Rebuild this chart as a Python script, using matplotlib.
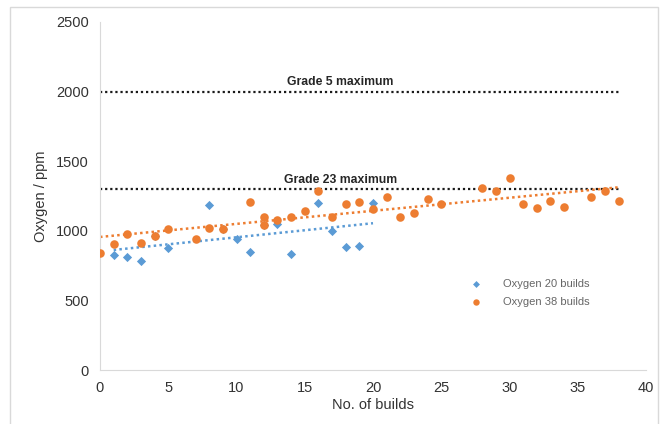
import numpy as np
import matplotlib
matplotlib.use("Agg")
import matplotlib.pyplot as plt
from matplotlib.patches import Rectangle

plt.rcParams["font.family"] = ["Liberation Sans", "DejaVu Sans"]

# ---------------------------------------------------------------------------
# Data
# ---------------------------------------------------------------------------
builds_20 = [1, 2, 3, 4, 5, 8, 9, 10, 11, 12, 13, 14, 16, 17, 18, 19, 20]
oxygen_20 = [826, 810, 785, 960, 876, 1185, 1010, 941, 845, 1045, 1046, 833,
             1197, 996, 886, 891, 1197]

builds_38 = [0, 1, 2, 3, 4, 5, 7, 8, 9, 11, 12, 12, 13, 14, 15, 16, 17, 18,
             19, 20, 21, 22, 23, 24, 25, 28, 29, 30, 31, 32, 33, 34, 36, 37, 38]
oxygen_38 = [838, 905, 977, 915, 963, 1011, 943, 1022, 1011, 1204, 1101, 1042,
             1078, 1101, 1142, 1286, 1101, 1192, 1204, 1154, 1245, 1097, 1130,
             1226, 1192, 1310, 1286, 1377, 1192, 1166, 1216, 1173, 1245, 1286,
             1216]

grade_limits = [2000, 1300]
grade_labels = ["Grade 5 maximum", "Grade 23 maximum"]

BLUE = "#5B9BD5"
ORANGE = "#ED7D31"

# ---------------------------------------------------------------------------
# Plot
# ---------------------------------------------------------------------------
fig = plt.figure(figsize=(6.69, 4.24), dpi=100)
fig.patches.append(Rectangle((10 / 669, -0.05), 648 / 669, 1 - 7 / 424 + 0.05,
                             transform=fig.transFigure, fill=False,
                             edgecolor="#d9d9d9", linewidth=1))
ax = fig.add_axes([100 / 669, 1 - 370 / 424, 546 / 669, 348 / 424])

# grade limit lines
for lim, lab in zip(grade_limits, grade_labels):
    ax.plot([0, 38], [lim, lim], color="#1a1a1a", linestyle=(0, (1, 1.3)),
            linewidth=1.6, zorder=1)
    ax.text(17.6, lim + 25, lab, ha="center", va="bottom", fontsize=8.8,
            fontweight="bold", color="#262626")

# scatter
ax.scatter(builds_20, oxygen_20, marker="D", s=22, color=BLUE,
           label="Oxygen 20 builds", zorder=3, linewidths=0)
ax.scatter(builds_38, oxygen_38, marker="o", s=38, color=ORANGE,
           label="Oxygen 38 builds", zorder=4, linewidths=0)

# linear trend lines
for xs, ys, col in [(builds_20, oxygen_20, BLUE), (builds_38, oxygen_38, ORANGE)]:
    k, b = np.polyfit(xs, ys, 1)
    xr = np.array([min(xs), max(xs)])
    ax.plot(xr, k * xr + b, color=col, linestyle=(0, (1, 1.3)),
            linewidth=1.8, zorder=2)

ax.set_xlim(0, 40)
ax.set_ylim(0, 2500)
ax.set_xticks(range(0, 41, 5))
ax.set_yticks(range(0, 2501, 500))
ax.tick_params(length=0, labelsize=10.5, colors="#333333", pad=8)
for side in ["top", "right"]:
    ax.spines[side].set_visible(False)
for side in ["left", "bottom"]:
    ax.spines[side].set_color("#d9d9d9")

ax.set_xlabel("No. of builds", fontsize=10.5, color="#333333", labelpad=2)
ax.set_ylabel("Oxygen / ppm", fontsize=10.5, color="#333333", labelpad=6)

leg = ax.legend(loc="upper left", bbox_to_anchor=(0.65, 0.29), frameon=False,
                fontsize=8, handletextpad=1.4, labelspacing=0.75,
                markerscale=0.75)
for t in leg.get_texts():
    t.set_color("#666666")

fig.savefig("out.png", dpi=100)
